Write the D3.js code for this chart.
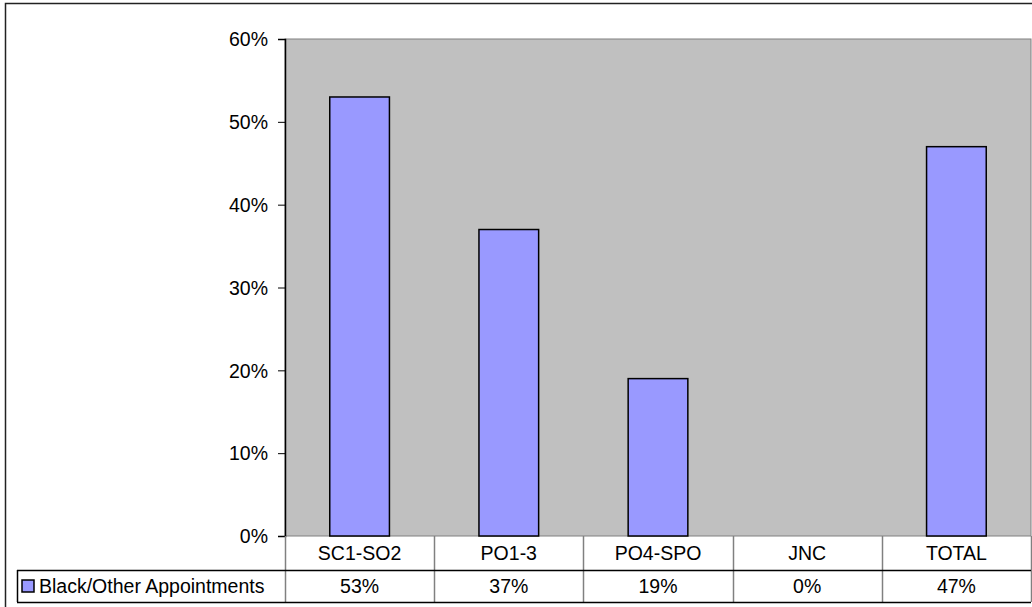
<!DOCTYPE html>
<html>
<head>
<meta charset="utf-8">
<script src="https://cdn.jsdelivr.net/npm/d3@7"></script>
<style>
  body { margin: 0; background: #fff; }
  text { font-family: "Liberation Sans", Arial, sans-serif; fill: #000; }
</style>
</head>
<body>
<div id="chart"></div>
<script>
const categories = ["SC1-SO2", "PO1-3", "PO4-SPO", "JNC", "TOTAL"];
const seriesName = "Black/Other Appointments";
const values = [0.53, 0.37, 0.19, 0.0, 0.47];
const valueLabels = ["53%", "37%", "19%", "0%", "47%"];
const yTicks = [0, 0.1, 0.2, 0.3, 0.4, 0.5, 0.6];

const svgWidth = 1032;
const svgHeight = 607;
const fontSize = "19.5px";

const plot = { left: 285, top: 39, right: 1031, bottom: 536 };
const rowH = 33;

const svg = d3.select("#chart")
    .append("svg")
    .attr("width", svgWidth)
    .attr("height", svgHeight);

// outer chart border
svg.append("path")
    .attr("d", `M5.5,${svgHeight} V3.5 H${svgWidth}`)
    .attr("fill", "none")
    .attr("stroke", "#222")
    .attr("stroke-width", 1.5);

const x = d3.scaleBand()
    .domain(categories)
    .range([plot.left, plot.right])
    .paddingInner(0)
    .paddingOuter(0);

const y = d3.scaleLinear()
    .domain([0, 0.6])
    .range([plot.bottom, plot.top]);

// plot background
svg.append("rect")
    .attr("x", plot.left)
    .attr("y", plot.top)
    .attr("width", plot.right - plot.left)
    .attr("height", plot.bottom - plot.top)
    .attr("fill", "#c0c0c0")
    .attr("stroke", "#808080")
    .attr("stroke-width", 1);

// bars
const barW = x.bandwidth() * 0.4;
svg.selectAll(".bar")
    .data(values)
    .enter()
    .append("rect")
    .attr("class", "bar")
    .attr("x", (d, i) => x(categories[i]) + (x.bandwidth() - barW) / 2)
    .attr("y", d => y(d))
    .attr("width", barW)
    .attr("height", d => y(0) - y(d))
    .attr("fill", "#9999ff")
    .attr("stroke", "#000")
    .attr("stroke-width", 1.5)
    .style("display", d => d > 0 ? null : "none");

// y axis
const leftAxis = d3.axisLeft(y)
    .tickValues(yTicks)
    .tickFormat(d3.format(".0%"))
    .tickSize(7)
    .tickPadding(10);

const yAxis = svg.append("g")
    .attr("transform", `translate(${plot.left},0)`)
    .call(leftAxis);
yAxis.attr("font-size", null).attr("font-family", null);
yAxis.select(".domain").attr("stroke", "#000").attr("stroke-width", 1.5);
yAxis.selectAll(".tick line").attr("stroke", "#000");
yAxis.selectAll(".tick text")
    .style("font-size", fontSize)
    .attr("dy", "0.35em")
    .attr("fill", "#000");

// data table
const tbl = svg.append("g");
const row1 = plot.bottom;
const row2 = plot.bottom + rowH + 1;
const row3 = row2 + rowH - 1;

// vertical gray separators
const seps = categories.map(c => x(c)).concat([plot.right]);
tbl.selectAll(".vsep")
    .data(seps)
    .enter()
    .append("line")
    .attr("x1", d => Math.round(d) + 0.5)
    .attr("x2", d => Math.round(d) + 0.5)
    .attr("y1", row1)
    .attr("y2", row3)
    .attr("stroke", "#808080")
    .attr("stroke-width", 1.5);

// horizontal black lines
tbl.append("line")
    .attr("x1", 17).attr("x2", plot.right)
    .attr("y1", row2 + 0.5).attr("y2", row2 + 0.5)
    .attr("stroke", "#000").attr("stroke-width", 1.5);
tbl.append("line")
    .attr("x1", 17).attr("x2", plot.right)
    .attr("y1", row3 + 0.5).attr("y2", row3 + 0.5)
    .attr("stroke", "#000").attr("stroke-width", 1.5);
tbl.append("line")
    .attr("x1", 17.5).attr("x2", 17.5)
    .attr("y1", row2).attr("y2", row3)
    .attr("stroke", "#000").attr("stroke-width", 1.5);

// category labels
tbl.selectAll(".cat")
    .data(categories)
    .enter()
    .append("text")
    .attr("x", d => x(d) + x.bandwidth() / 2)
    .attr("y", (row1 + row2) / 2 + 7)
    .attr("text-anchor", "middle")
    .style("font-size", fontSize)
    .text(d => d);

// value labels
tbl.selectAll(".val")
    .data(valueLabels)
    .enter()
    .append("text")
    .attr("x", (d, i) => x(categories[i]) + x.bandwidth() / 2)
    .attr("y", (row2 + row3) / 2 + 7)
    .attr("text-anchor", "middle")
    .style("font-size", fontSize)
    .text(d => d);

// legend key
tbl.append("rect")
    .attr("x", 22)
    .attr("y", (row2 + row3) / 2 - 6)
    .attr("width", 12)
    .attr("height", 12)
    .attr("fill", "#9999ff")
    .attr("stroke", "#000")
    .attr("stroke-width", 1.5);
tbl.append("text")
    .attr("x", 39)
    .attr("y", (row2 + row3) / 2 + 7)
    .style("font-size", fontSize)
    .text(seriesName);
</script>
</body>
</html>
